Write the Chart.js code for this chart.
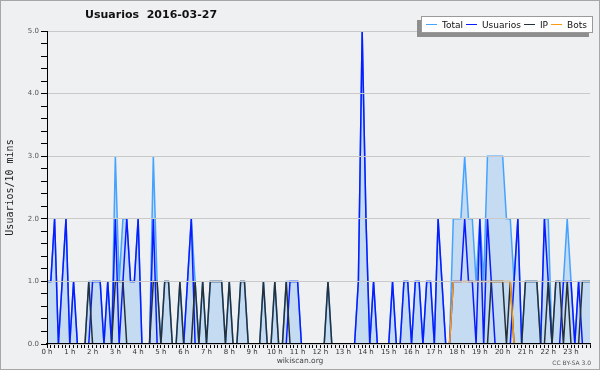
<!DOCTYPE html>
<html>
<head>
<meta charset="utf-8">
<script src="https://cdn.jsdelivr.net/npm/chart.js@4/dist/chart.umd.min.js"></script>
<style>
  body { margin: 0; }
  #wrap { position: relative; width: 600px; height: 370px; background: #eff0f2;
          box-shadow: inset 0 0 0 1px #a6a6a6; overflow: hidden; font-family: "DejaVu Sans", sans-serif; }
  canvas { position: absolute; left: 0; top: 0; }
  #title { position: absolute; left: 85px; top: 8px; font: bold 11px "DejaVu Sans"; white-space: pre; color: #111; }
  #legend { position: absolute; left: 421px; top: 16px; width: 170px; height: 15px; background: #fff;
            border: 1px solid #9a9a9a; box-shadow: -4px 4px 0 #8e8e8e; font: 9px "DejaVu Sans"; color: #111;
            display: flex; align-items: center; white-space: nowrap; }
  #legend i { display: inline-block; width: 11px; height: 1.5px; margin: 0 5px 0 3px; }
  #legend i:first-child { margin-left: 4px; }
  #foot { position: absolute; left: 0; width: 600px; top: 356px; text-align: center; font: 7.5px "DejaVu Sans"; color: #444; }
  #lic { position: absolute; right: 9px; top: 359px; font: 6px "DejaVu Sans"; color: #555; }
</style>
</head>
<body>
<div id="wrap">
  <canvas id="chart" width="600" height="370"></canvas>
  <div id="title">Usuarios  2016-03-27</div>
  <div id="legend"></div>
  <div id="foot">wikiscan.org</div>
  <div id="lic">CC BY-SA 3.0</div>
</div>
<script>
// 10 minute slots, 6 per hour
const hours = ['0 h', '1 h', '2 h', '3 h', '4 h', '5 h', '6 h', '7 h', '8 h', '9 h', '10 h', '11 h',
               '12 h', '13 h', '14 h', '15 h', '16 h', '17 h', '18 h', '19 h', '20 h', '21 h', '22 h', '23 h'];
const categories = [];
hours.forEach(function (h, i) {
    for (let m = 0; m < 60; m += 10) categories.push(i + ':' + (m < 10 ? '0' : '') + m);
});

const total = [
    1,1,2,0,1,2, 0,1,0,0,0,1,
    1,1,1,0,1,0, 3,1,2,2,1,1,
    2,0,0,0,3,1, 0,1,1,0,0,1,
    0,1,2,1,0,1, 0,1,1,1,1,0,
    1,0,0,1,1,0, 0,0,0,1,0,0,
    1,0,0,1,1,1, 1,0,0,0,0,0,
    0,0,1,0,0,0, 0,0,0,0,1,5,
    2,0,1,0,0,0, 0,1,0,0,1,1,
    0,1,1,0,1,1, 0,2,1,0,0,2,
    2,2,3,2,2,1, 2,1,3,3,3,3,
    3,2,2,1,2,0, 1,1,1,1,0,2,
    2,0,1,1,1,2, 1,0,1,1,1,1
];
const usuarios = [
    1,1,2,0,1,2, 0,1,0,0,0,0,
    1,1,1,0,1,0, 2,0,1,2,1,1,
    2,0,0,0,2,0, 0,0,0,0,0,0,
    0,1,2,0,0,0, 0,0,0,0,0,0,
    0,0,0,0,0,0, 0,0,0,0,0,0,
    0,0,0,0,1,1, 1,0,0,0,0,0,
    0,0,0,0,0,0, 0,0,0,0,1,5,
    2,0,1,0,0,0, 0,1,0,0,1,1,
    0,1,1,0,1,1, 0,2,1,0,0,1,
    1,1,2,1,1,0, 2,0,2,1,0,0,
    0,0,0,1,2,0, 0,0,0,0,0,2,
    1,0,0,0,1,1, 1,0,1,0,0,0
];
const ip = [
    0,0,0,0,0,0, 0,0,0,0,0,1,
    0,0,0,0,0,0, 1,1,1,0,0,0,
    0,0,0,0,1,1, 0,1,1,0,0,1,
    0,0,0,1,0,1, 0,1,1,1,1,0,
    1,0,0,1,1,0, 0,0,0,1,0,0,
    1,0,0,1,0,0, 0,0,0,0,0,0,
    0,0,1,0,0,0, 0,0,0,0,0,0,
    0,0,0,0,0,0, 0,0,0,0,0,0,
    0,0,0,0,0,0, 0,0,0,0,0,0,
    0,0,0,0,0,0, 0,0,0,1,1,1,
    1,0,1,0,0,0, 1,1,1,1,0,0,
    1,0,1,1,0,1, 0,0,0,1,1,1
];
const bots = [
    0,0,0,0,0,0, 0,0,0,0,0,0,
    0,0,0,0,0,0, 0,0,0,0,0,0,
    0,0,0,0,0,0, 0,0,0,0,0,0,
    0,0,0,0,0,0, 0,0,0,0,0,0,
    0,0,0,0,0,0, 0,0,0,0,0,0,
    0,0,0,0,0,0, 0,0,0,0,0,0,
    0,0,0,0,0,0, 0,0,0,0,0,0,
    0,0,0,0,0,0, 0,0,0,0,0,0,
    0,0,0,0,0,0, 0,0,0,0,0,1,
    1,1,1,1,1,1, 1,1,1,1,1,1,
    1,1,1,0,0,0, 0,0,0,0,0,0,
    0,0,0,0,0,0, 0,0,0,0,0,0
];

const series = [
    { label: 'Total', data: total, color: '#45a3ff', order: 3 },
    { label: 'Usuarios', data: usuarios, color: '#0a1cff', order: 2 },
    { label: 'IP', data: ip, color: '#25303a', order: 1 },
    { label: 'Bots', data: bots, color: '#ff9a10', order: 0 }
];

// legend
const legend = document.getElementById('legend');
series.forEach(function (s) {
    const mark = document.createElement('i');
    mark.style.background = s.color;
    legend.appendChild(mark);
    legend.appendChild(document.createTextNode(s.label));
});

const isMajor = v => Math.abs(v - Math.round(v)) < 1e-6;

new Chart(document.getElementById('chart'), {
    type: 'line',
    data: {
        labels: categories,
        datasets: series.map(s => ({
            label: s.label,
            data: s.data,
            order: s.order,
            borderColor: s.color,
            backgroundColor: '#c4dbf1',
            fill: s.label === 'Total' ? 'origin' : false,
            borderWidth: 1.5,
            tension: 0,
            pointRadius: 0
        }))
    },
    options: {
        responsive: false,
        animation: false,
        events: [],
        layout: { padding: { top: 31, right: 10, left: 0, bottom: 0 } },
        plugins: { legend: { display: false }, tooltip: { enabled: false } },
        scales: {
            x: {
                offset: false,
                afterFit: s => { s.height = 26; },
                border: { color: '#000', width: 1.5, z: 1 },
                grid: { drawOnChartArea: false, tickLength: 4, tickColor: '#000', z: 1 },
                ticks: {
                    autoSkip: false, maxRotation: 0, minRotation: 0, padding: 0,
                    color: '#333', font: { family: 'DejaVu Sans', size: 7 },
                    callback: (v, i) => i % 6 === 0 ? hours[i / 6] : ''
                }
            },
            y: {
                min: 0, max: 5,
                afterFit: s => { s.width = 47; },
                border: { color: '#000', z: 1 },
                grid: {
                    color: ctx => isMajor(ctx.tick.value) ? '#c9c9c9' : 'rgba(0,0,0,0)',
                    tickColor: '#000', tickLength: 6, z: 1
                },
                ticks: {
                    stepSize: 0.2, autoSkip: false, padding: 2,
                    color: '#555', font: { family: 'DejaVu Sans', size: 7 },
                    callback: v => isMajor(v) ? v.toFixed(1) : ''
                },
                title: {
                    display: true, text: 'Usuarios/10 mins', color: '#222',
                    font: { family: 'DejaVu Sans Mono', size: 10 },
                    padding: { top: 4, bottom: 0 }
                }
            }
        }
    }
});
</script>
</body>
</html>
